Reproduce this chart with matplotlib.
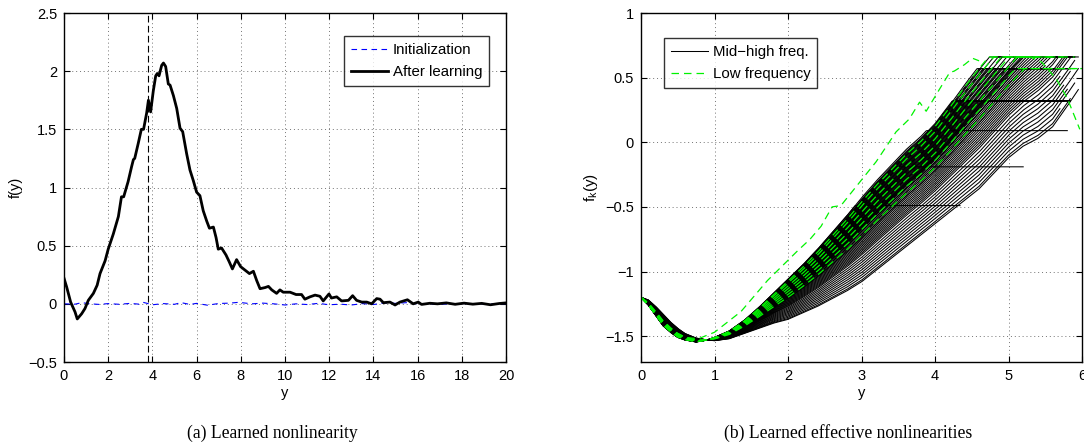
import numpy as np
import matplotlib
matplotlib.use("Agg")
import matplotlib.pyplot as plt

plt.rcParams['font.family'] = ['Liberation Sans', 'DejaVu Sans']
plt.rcParams['font.size'] = 10.5

# ---------------- (a) learned nonlinearity ----------------
a_x = [0, 0.12, 0.3, 0.5, 0.6, 0.8, 0.95, 1.1, 1.33, 1.5, 1.63, 1.86, 2.0, 2.23,
       2.46, 2.6, 2.7, 2.9, 3.06, 3.14, 3.2, 3.36, 3.5, 3.6, 3.74, 3.82, 3.92,
       4.04, 4.15, 4.22, 4.3, 4.42, 4.5, 4.6, 4.72, 4.8, 4.95, 5.1, 5.25, 5.37,
       5.55, 5.7, 5.85, 6.0, 6.15, 6.3, 6.46, 6.58, 6.76, 6.88, 6.98, 7.13, 7.33,
       7.48, 7.62, 7.81, 7.99, 8.19, 8.39, 8.57, 8.72, 8.87, 9.1, 9.25, 9.4, 9.62,
       9.77, 9.92, 10.23, 10.5, 10.75, 10.9, 11.13, 11.36, 11.58, 11.73, 11.99,
       12.1, 12.34, 12.56, 12.87, 13.06, 13.24, 13.47, 13.7, 13.92, 14.15, 14.3,
       14.45, 14.75, 14.98, 15.2, 15.54, 15.8, 16.03, 16.18, 16.56, 16.9, 17.3,
       17.7, 18.1, 18.5, 18.9, 19.3, 19.7, 20.0]
a_after = [0.22, 0.145, 0.015, -0.07, -0.13, -0.085, -0.04, 0.03, 0.09, 0.16,
           0.26, 0.37, 0.47, 0.60, 0.75, 0.92, 0.92, 1.05, 1.18, 1.24, 1.25, 1.38,
           1.50, 1.50, 1.64, 1.75, 1.65, 1.83, 1.96, 1.98, 1.96, 2.05, 2.07, 2.04,
           1.89, 1.88, 1.79, 1.68, 1.51, 1.48, 1.29, 1.15, 1.06, 0.96, 0.93, 0.80,
           0.71, 0.65, 0.66, 0.57, 0.47, 0.48, 0.42, 0.36, 0.30, 0.38, 0.32, 0.29,
           0.26, 0.28, 0.20, 0.13, 0.14, 0.15, 0.12, 0.09, 0.12, 0.10, 0.10, 0.08,
           0.08, 0.04, 0.06, 0.075, 0.065, 0.025, 0.085, 0.05, 0.06, 0.025, 0.03,
           0.07, 0.03, 0.015, 0.015, 0.0, 0.045, 0.04, 0.01, 0.015, -0.01, 0.015,
           0.035, 0.0, 0.015, -0.005, 0.005, 0.0, 0.008, -0.004, 0.006, -0.003,
           0.004, -0.008, 0.003, 0.008]

init_x = [0, 0.5, 0.8, 1.2, 1.6, 2.0, 2.5, 3.0, 3.4, 3.6, 4.0, 4.5, 5.0, 5.3,
          5.7, 6.0, 6.5, 7.0, 7.5, 7.9, 8.5, 9.0, 9.5, 10.0, 10.5, 11.0, 11.5,
          12.0, 12.5, 13.0, 13.5, 14.0, 14.5, 15.0, 15.5, 16.0, 17.0, 18.0, 19.0, 20.0]
init_v = [0.0, -0.003, 0.01, 0.0, -0.005, 0.002, -0.004, 0.004, -0.003, 0.012,
          -0.008, 0.002, -0.004, 0.01, -0.005, 0.004, -0.012, 0.003, 0.006, 0.013,
          0.0, 0.006, 0.0, -0.01, 0.0, -0.006, 0.004, -0.008, -0.003, -0.01, 0.002,
          -0.006, 0.008, 0.004, 0.01, 0.0, -0.004, 0.003, -0.002, 0.002]

vline_x = 3.8

# ---------------- (b) learned effective nonlinearities ----------------
# upper and lower edges of the bundle of black curves
edge_x = [0, 0.1, 0.2, 0.3, 0.4, 0.5, 0.6, 0.75, 0.9, 1.0, 1.2, 1.4, 1.6, 1.8,
          2.0, 2.2, 2.4, 2.6, 2.8, 3.0, 3.2, 3.4, 3.6, 3.8, 4.0, 4.2, 4.4, 4.6,
          4.8, 5.0, 5.2, 5.4, 5.6, 5.8, 6.0]
edge_upper = [-1.20, -1.26, -1.34, -1.42, -1.47, -1.51, -1.53, -1.545, -1.53,
              -1.51, -1.46, -1.38, -1.28, -1.17, -1.06, -0.95, -0.83, -0.70,
              -0.57, -0.43, -0.30, -0.18, -0.06, 0.04, 0.16, 0.31, 0.47, 0.62,
              0.76, 0.90, 1.04, 1.18, 1.32, 1.46, 1.60]
edge_lower = [-1.20, -1.22, -1.27, -1.33, -1.39, -1.44, -1.48, -1.515, -1.53,
              -1.535, -1.52, -1.48, -1.44, -1.40, -1.37, -1.32, -1.27, -1.21,
              -1.15, -1.08, -0.99, -0.90, -0.81, -0.72, -0.63, -0.54, -0.45,
              -0.36, -0.24, -0.12, -0.03, 0.03, 0.12, 0.28, 0.45]

# position of each curve inside the bundle (0 = upper edge, 1 = lower edge),
# saturation level and end of the curve on the y axis
black_pos = [0.00, 0.04, 0.00,
             # saturating near 0.32
             0.02, 0.04, 0.06, 0.08, 0.10, 0.12, 0.14, 0.16, 0.18, 0.20,
             0.22, 0.24, 0.26, 0.28, 0.30, 0.33, 0.36, 0.40,
             # saturating near 0.57
             0.03, 0.05, 0.07, 0.09, 0.11, 0.13, 0.15, 0.17, 0.19, 0.21,
             0.23, 0.25, 0.27, 0.29, 0.31, 0.34, 0.37, 0.40, 0.44, 0.48,
             # saturating near 0.66
             0.06, 0.10, 0.14, 0.18, 0.22, 0.26, 0.30, 0.35,
             # lower curves
             0.32, 0.34, 0.36, 0.38, 0.40, 0.42, 0.44, 0.46, 0.48, 0.50,
             0.52, 0.54, 0.56, 0.58, 0.60, 0.62, 0.64, 0.66, 0.68, 0.71,
             0.74, 0.77, 0.80, 0.83, 0.86, 0.89, 0.92, 0.95, 0.98, 1.00]
black_cap = ([-0.49, -0.19, 0.09] + [0.32] * 18 + [0.57] * 20 + [0.66] * 8
             + [0.66] * 30)
black_end = [4.35, 5.20, 5.80,
             5.30, 5.45, 5.60, 5.75, 5.50, 5.85, 5.40, 5.65, 5.55, 5.70,
             5.80, 5.60, 5.75, 5.85, 5.70, 5.80, 5.65, 5.85,
             5.05, 5.15, 5.25, 5.35, 5.45, 5.55, 5.60, 5.70, 5.80, 5.85,
             5.75, 5.85, 5.50, 5.65, 5.80, 5.70, 5.85, 5.60, 5.75, 5.85,
             5.20, 5.35, 5.45, 5.55, 5.60, 5.50, 5.45, 5.60,
             5.85, 5.60, 5.80, 5.50, 5.90, 5.70, 5.85, 5.40, 5.75, 5.90,
             5.60, 5.80, 5.50, 5.70, 5.85, 5.60, 5.75, 5.90, 5.80, 5.95,
             5.70, 5.90, 5.85, 5.75, 5.95, 5.80, 5.90, 5.70, 5.85, 5.95]

green_pos = [0.05, 0.10, 0.17, 0.24, 0.31, 0.38, 0.45]
green_cap = [0.66, 0.66, 0.66, 0.66, 0.66, 0.57, 0.57]
green_end = [5.30, 5.30, 5.60, 5.75, 5.90, 6.00, 6.00]
# falling end of one green curve near the right border
green_tail_x = [5.30, 5.45, 5.65, 5.80, 5.97]
green_tail_v = [0.66, 0.62, 0.49, 0.34, 0.10]

# the steepest low-frequency curve
green_out_x = [0, 0.2, 0.4, 0.6, 0.78, 1.0, 1.36, 1.72, 2.13, 2.3, 2.45, 2.6,
               2.72, 2.96, 3.2, 3.47, 3.65, 3.79, 3.88, 4.05, 4.2, 4.26, 4.4,
               4.51, 4.6]
green_out_v = [-1.2, -1.33, -1.45, -1.51, -1.52, -1.47, -1.31, -1.07, -0.84,
               -0.75, -0.65, -0.50, -0.49, -0.32, -0.15, 0.08, 0.18, 0.31, 0.24,
               0.40, 0.54, 0.55, 0.60, 0.65, 0.63]

W, H = 1084, 445
fig = plt.figure(figsize=(W / 100, H / 100), dpi=100)
axA = fig.add_axes([64 / W, 1 - 362 / H, 442 / W, 349 / H])
axB = fig.add_axes([641 / W, 1 - 362 / H, 441 / W, 349 / H])

grid_kw = dict(color='0.45', linestyle=(0, (1, 3)), linewidth=0.7)


def matlab_axes(ax):
    ax.tick_params(direction='in', top=True, right=True, length=4, width=0.8,
                   labelsize=10.5, pad=5)
    for s in ax.spines.values():
        s.set_linewidth(1.0)
    ax.grid(True, **grid_kw)
    ax.set_axisbelow(True)


leg_kw = dict(fontsize=10.8, frameon=True, fancybox=False, edgecolor='black',
              handlelength=2.5, handletextpad=0.3, borderpad=0.45,
              labelspacing=0.55, borderaxespad=0)

# panel (a)
axA.plot(init_x, init_v, color='blue', linestyle=(0, (5, 4)), linewidth=0.8,
         label='Initialization')
axA.plot(a_x, a_after, color='black', linewidth=2.0, label='After learning')
axA.axvline(vline_x, color='black', linestyle=(0, (6, 3)), linewidth=0.8)
axA.set_xlim(0, 20)
axA.set_ylim(-0.5, 2.5)
axA.set_xticks(np.arange(0, 21, 2))
axA.set_yticks([-0.5, 0, 0.5, 1, 1.5, 2, 2.5])
axA.set_yticklabels(['\u22120.5', '0', '0.5', '1', '1.5', '2', '2.5'])
axA.set_xlabel('y', labelpad=2)
axA.set_ylabel('f(y)', labelpad=4)
matlab_axes(axA)
legA = axA.legend(loc='upper right', bbox_to_anchor=(0.9615, 0.934), **leg_kw)
legA.get_frame().set_linewidth(1.0)

# panel (b)
xs = np.linspace(0, 6, 601)
up = np.interp(xs, edge_x, edge_upper)
lo = np.interp(xs, edge_x, edge_lower)

first = True
for w, cap, end in zip(black_pos, black_cap, black_end):
    v = np.minimum(up + w * (lo - up), cap)
    m = xs <= end
    axB.plot(xs[m], v[m], color='black', linewidth=0.75,
             label='Mid\u2212high freq.' if first else None)
    first = False

green_kw = dict(color=(0, 0.95, 0), linestyle=(0, (6, 4)), linewidth=0.9)
for i, (w, cap, end) in enumerate(zip(green_pos, green_cap, green_end)):
    v = np.minimum(up + w * (lo - up), cap)
    m = xs <= end
    gx, gv = list(xs[m]), list(v[m])
    if i == 1:
        gx += green_tail_x
        gv += green_tail_v
    axB.plot(gx, gv, **green_kw, label='Low frequency' if i == 0 else None)
axB.plot(green_out_x, green_out_v, **green_kw)

axB.set_xlim(0, 6)
axB.set_ylim(-1.7, 1)
axB.set_xticks(range(0, 7))
axB.set_yticks([-1.5, -1, -0.5, 0, 0.5, 1])
axB.set_yticklabels(['\u22121.5', '\u22121', '\u22120.5', '0', '0.5', '1'])
axB.set_xlabel('y', labelpad=2)
axB.set_ylabel('f$_\\mathregular{k}$(y)', labelpad=4, fontsize=11)
matlab_axes(axB)
legB = axB.legend(loc='upper left', bbox_to_anchor=(0.052, 0.928), **leg_kw)
legB.get_frame().set_linewidth(1.0)

# captions
cap_font = dict(family=['Liberation Serif', 'DejaVu Serif'], fontsize=12.7,
                ha='center', va='center')
fig.text(272 / W, 1 - 433 / H, '(a) Learned nonlinearity', **cap_font)
fig.text(848 / W, 1 - 433 / H, '(b) Learned effective nonlinearities', **cap_font)

fig.savefig('out.png', dpi=100)
